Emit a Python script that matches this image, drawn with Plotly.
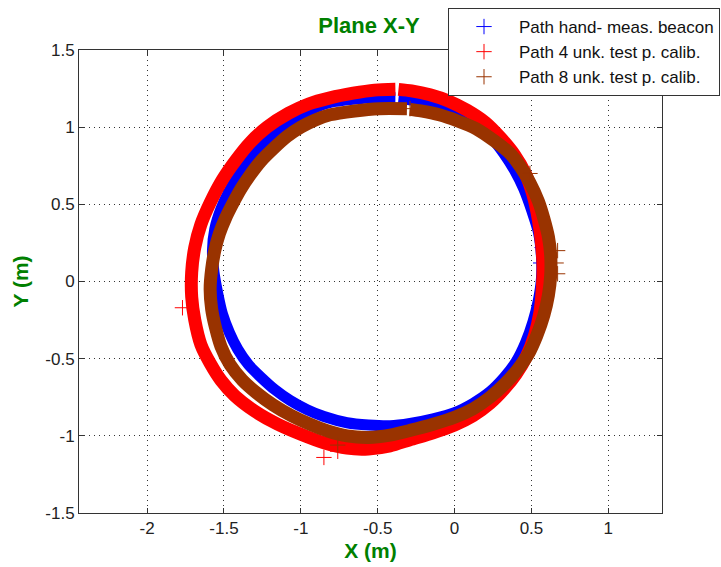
import plotly.graph_objects as go

# Path traced with the hand-measured beacon positions
hand_x = [-0.385, -0.52, -0.66, -0.81, -0.92, -1.03, -1.14, -1.24, -1.33, -1.41, -1.47, -1.52, -1.56,
          -1.575, -1.565, -1.54, -1.51, -1.465, -1.41, -1.34, -1.26, -1.17, -1.07, -0.96, -0.85, -0.70,
          -0.56, -0.42, -0.29, -0.14, 0.00, 0.12, 0.23, 0.32, 0.40, 0.46, 0.51, 0.545, 0.565, 0.565,
          0.545, 0.505, 0.45, 0.39, 0.32, 0.22, 0.10, -0.03, -0.16, -0.28, -0.365]
hand_y = [1.19, 1.19, 1.18, 1.16, 1.12, 1.06, 0.98, 0.89, 0.79, 0.68, 0.58, 0.47, 0.34,
          0.20, 0.06, -0.08, -0.21, -0.33, -0.44, -0.54, -0.62, -0.70, -0.77, -0.83, -0.875, -0.915,
          -0.93, -0.935, -0.92, -0.89, -0.85, -0.79, -0.715, -0.625, -0.52, -0.40, -0.26, -0.12, 0.02, 0.16,
          0.32, 0.45, 0.60, 0.72, 0.83, 0.95, 1.04, 1.10, 1.15, 1.175, 1.185]

# Path from the calibration with 4 unknown test points
cal4_x = [-0.385, -0.52, -0.66, -0.81, -0.95, -1.08, -1.22, -1.33, -1.42, -1.51, -1.59, -1.65, -1.69,
          -1.71, -1.71, -1.69, -1.65, -1.59, -1.52, -1.43, -1.30, -1.15, -1.00, -0.85, -0.70, -0.56,
          -0.42, -0.29, -0.14, 0.00, 0.12, 0.23, 0.32, 0.40, 0.47, 0.52, 0.555, 0.57, 0.575, 0.565, 0.545,
          0.51, 0.46, 0.39, 0.30, 0.20, 0.08, -0.04, -0.16, -0.28, -0.365]
cal4_y = [1.245, 1.24, 1.22, 1.19, 1.15, 1.09, 1.00, 0.90, 0.79, 0.66, 0.51, 0.37, 0.22,
          0.06, -0.10, -0.25, -0.41, -0.53, -0.64, -0.74, -0.84, -0.925, -0.99, -1.045, -1.08, -1.085,
          -1.065, -1.025, -0.98, -0.93, -0.87, -0.79, -0.70, -0.60, -0.48, -0.35, -0.20, -0.05, 0.10, 0.25, 0.40,
          0.56, 0.70, 0.82, 0.93, 1.03, 1.11, 1.17, 1.21, 1.235, 1.245]

# Path from the calibration with 8 unknown test points
cal8_x = [-0.31, -0.49, -0.65, -0.81, -0.91, -1.00, -1.09, -1.18, -1.26, -1.33, -1.39, -1.44, -1.49,
          -1.53, -1.56, -1.58, -1.59, -1.58, -1.555, -1.52, -1.46, -1.38, -1.29, -1.18, -1.06, -0.94,
          -0.82, -0.70, -0.56, -0.42, -0.29, -0.14, 0.00, 0.12, 0.23, 0.33, 0.41, 0.48, 0.535, 0.58, 0.61,
          0.625, 0.625, 0.61, 0.58, 0.545, 0.49, 0.43, 0.36, 0.26, 0.14, 0.02, -0.10, -0.22, -0.29]
cal8_y = [1.12, 1.12, 1.105, 1.08, 1.045, 1.00, 0.94, 0.86, 0.78, 0.69, 0.60, 0.51, 0.41,
          0.31, 0.20, 0.08, -0.05, -0.18, -0.30, -0.42, -0.54, -0.64, -0.72, -0.80, -0.87, -0.925,
          -0.97, -1.00, -1.01, -0.995, -0.965, -0.925, -0.88, -0.825, -0.75, -0.66, -0.57, -0.47, -0.35, -0.22, -0.09,
          0.04, 0.17, 0.29, 0.41, 0.52, 0.64, 0.74, 0.83, 0.91, 0.99, 1.04, 1.08, 1.105, 1.115]

# Isolated samples lying off the bands
hand_out_x = [0.58, 0.57, 0.56]
hand_out_y = [0.35, 0.22, 0.12]
cal4_out_x = [-1.77, -0.85, -0.76, 0.58]
cal4_out_y = [-0.17, -1.14, -1.10, 0.26]
cal8_out_x = [-0.76, -0.29, 0.67, 0.66, 0.67, 0.49]
cal8_out_y = [-1.06, 1.12, 0.20, 0.12, 0.05, 0.70]

legend_names = ["Path hand- meas. beacon", "Path 4 unk. test p. calib.", "Path 8 unk. test p. calib."]
colors = ["#0000ff", "#ff0000", "#993300"]
band_widths = [11, 13, 13]

paths = [(hand_x, hand_y, hand_out_x, hand_out_y),
         (cal4_x, cal4_y, cal4_out_x, cal4_out_y),
         (cal8_x, cal8_y, cal8_out_x, cal8_out_y)]

fig = go.Figure()
for i, (px, py, ox, oy) in enumerate(paths):
    fig.add_trace(go.Scatter(
        x=px, y=py, mode="lines",
        line=dict(color=colors[i], width=band_widths[i], shape="spline", smoothing=0.7),
        legendgroup=f"g{i}", showlegend=False, hoverinfo="skip"))
    fig.add_trace(go.Scatter(
        x=ox, y=oy, mode="markers", name=legend_names[i], legendgroup=f"g{i}",
        marker=dict(symbol="cross-thin", size=11, line=dict(color=colors[i], width=1), color=colors[i])))

font_family = "Liberation Sans, Arial, sans-serif"
green = "#008000"

axis_common = dict(
    showline=True, linecolor="#333333", linewidth=1, mirror="ticks",
    ticks="inside", ticklen=5, tickcolor="#333333",
    showgrid=True, gridcolor="#333333", gridwidth=1, griddash="1px,4px",
    zeroline=False, tickfont=dict(family=font_family, size=17, color="#222222"),
)

fig.update_xaxes(range=[-2.443, 1.349], tickvals=[-2, -1.5, -1, -0.5, 0, 0.5, 1],
                 ticktext=["-2", "-1.5", "-1", "-0.5", "0", "0.5", "1"],
                 title=dict(text="<b>X (m)</b>", font=dict(family=font_family, size=21, color=green), standoff=5),
                 **axis_common)
fig.update_yaxes(range=[-1.5, 1.5], tickvals=[-1.5, -1, -0.5, 0, 0.5, 1, 1.5],
                 ticktext=["-1.5", "-1", "-0.5", "0", "0.5", "1", "1.5"],
                 title=dict(text="<b>Y (m)</b>", font=dict(family=font_family, size=21, color=green), standoff=10),
                 **axis_common)

fig.update_layout(
    width=721, height=567,
    margin=dict(l=79, r=59, t=50, b=54, autoexpand=False),
    plot_bgcolor="white", paper_bgcolor="white",
    title=dict(text="<b>Plane X-Y</b>", x=369 / 721, xanchor="center", y=1 - 25 / 567, yanchor="middle",
               font=dict(family=font_family, size=22, color=green)),
    legend=dict(x=(448 - 79) / 583, xanchor="left", y=(513 - 8) / 463, yanchor="top",
                bgcolor="white", bordercolor="#333333", borderwidth=1,
                font=dict(family=font_family, size=17, color="#111111"),
                itemwidth=60, tracegroupgap=0),
    showlegend=True,
)

fig.write_html("out.html")
